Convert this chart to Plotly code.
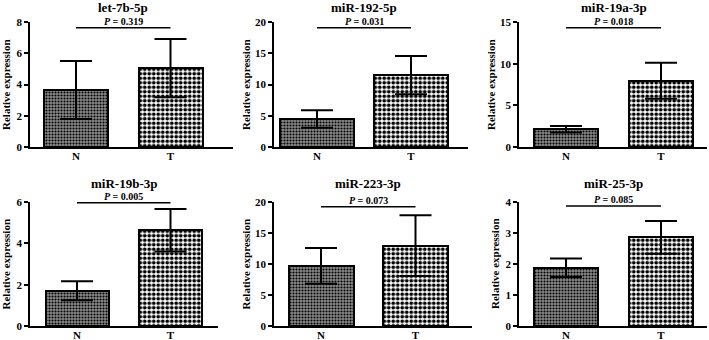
import plotly.graph_objects as go

W, H = 709, 340

# ---------------- data ----------------
titles = ["let-7b-5p", "miR-192-5p", "miR-19a-3p", "miR-19b-3p", "miR-223-3p", "miR-25-3p"]
groups = ["N", "T"]
means_let7b = [3.65, 5.05]
errs_let7b = [1.86, 1.87]
means_mir192 = [4.5, 11.5]
errs_mir192 = [1.4, 3.05]
means_mir19a = [2.13, 7.95]
errs_mir19a = [0.38, 2.15]
means_mir19b = [1.70, 4.63]
errs_mir19b = [0.46, 1.03]
means_mir223 = [9.7, 12.95]
errs_mir223 = [2.88, 4.9]
means_mir25 = [1.88, 2.86]
errs_mir25 = [0.30, 0.53]
p_labels = ["0.319", "0.031", "0.018", "0.005", "0.073", "0.085"]
y_max = [8, 20, 15, 6, 20, 4]
y_dtick = [2, 5, 5, 2, 5, 1]

means = [means_let7b, means_mir192, means_mir19a, means_mir19b, means_mir223, means_mir25]
errs = [errs_let7b, errs_mir192, errs_mir19a, errs_mir19b, errs_mir223, errs_mir25]

# ---------------- layout (pixel geometry) ----------------
# axis start, axis end, N centre, T centre, bar width (px)
xgeo = [
    (30, 233, 76, 170.5, 64),
    (274, 468, 317, 411, 74),
    (519, 707, 566, 661, 64),
    (30, 218, 77, 170.5, 63),
    (274, 472, 321, 415.5, 65),
    (519, 707, 566, 661, 64),
]
rows = [(22, 147), (202, 326)]  # top, bottom px
line_frac = [0.954, 0.954, 0.954, 0.994, 0.962, 0.968]
ylab_x = [5.5, 245.5, 490.5, 5.5, 245.5, 495]
title_y = [7.5, 7.5, 7.5, 183.5, 183.5, 183.5]

FONT = "Liberation Serif"
fig = go.Figure()

annotations = []
shapes = []
for i in range(6):
    ax0, ax1, nc, tc, bw = xgeo[i]
    u = tc - nc
    xr = [(ax0 - nc) / u, (ax1 - nc) / u]
    top, bot = rows[i // 3]
    sfx = "" if i == 0 else str(i + 1)
    xa, ya = "x" + sfx, "y" + sfx

    for j, g in enumerate(groups):
        if j == 0:
            pat = dict(shape=".", fgcolor="#000000", bgcolor="#8c8c8c", size=3, solidity=0.4, fillmode="replace")
        else:
            pat = dict(shape=".", fgcolor="#000000", bgcolor="#ffffff", size=4.5, solidity=0.55, fillmode="replace")
        fig.add_trace(go.Bar(
            x=[g], y=[means[i][j]], xaxis=xa, yaxis=ya,
            width=bw / u,
            marker=dict(color="white", pattern=pat, line=dict(color="black", width=2)),
            error_y=dict(type="data", array=[errs[i][j]], color="black", thickness=2, width=16),
            showlegend=False,
        ))

    dom_x = [ax0 / W, ax1 / W]
    dom_y = [1 - bot / H, 1 - top / H]
    fig.layout["xaxis" + sfx] = dict(
        domain=dom_x, range=xr, anchor=ya, type="category",
        categoryorder="array", categoryarray=groups, automargin=False,
        showline=True, linecolor="black", linewidth=1.5, ticks="", showgrid=False,
        zeroline=False, tickfont=dict(family=FONT, size=11, color="black", weight="bold"),
        ticklabelstandoff=-2, fixedrange=True,
    )
    fig.layout["yaxis" + sfx] = dict(
        domain=dom_y, range=[0, y_max[i]], anchor=xa, dtick=y_dtick[i], tick0=0,
        automargin=False,
        showline=True, linecolor="black", linewidth=1.5, ticks="outside", ticklen=4,
        tickwidth=1.5, tickcolor="black", showgrid=False, zeroline=False,
        tickfont=dict(family=FONT, size=11, color="black", weight="bold"),
    )

    mid = (nc + tc) / 2 / W
    annotations.append(dict(
        x=mid, y=1 - title_y[i] / H, xref="paper", yref="paper", text=titles[i],
        showarrow=False, xanchor="center", yanchor="middle",
        font=dict(family=FONT, size=13, color="black", weight="bold"),
    ))
    ly = dom_y[0] + line_frac[i] * (dom_y[1] - dom_y[0])
    annotations.append(dict(
        x=mid, y=ly, xref="paper", yref="paper",
        text="<i>P</i> = " + p_labels[i], showarrow=False, xanchor="center", yanchor="bottom",
        yshift=-1,
        font=dict(family=FONT, size=10, color="black", weight="bold"),
    ))
    annotations.append(dict(
        x=ylab_x[i] / W, y=(dom_y[0] + dom_y[1]) / 2, xref="paper", yref="paper",
        text="Relative expression", textangle=-90, showarrow=False,
        xanchor="center", yanchor="middle",
        font=dict(family=FONT, size=11, color="black", weight="bold"),
    ))
    shapes.append(dict(
        type="line", xref=xa, yref="paper", x0=groups[0], x1=groups[1], y0=ly, y1=ly,
        line=dict(color="black", width=1.6),
    ))

fig.update_layout(
    template="none",
    width=W, height=H, margin=dict(l=0, r=0, t=0, b=0, pad=0),
    plot_bgcolor="white", paper_bgcolor="white",
    barmode="overlay", bargap=0,
    annotations=annotations, shapes=shapes,
    font=dict(family=FONT, color="black"),
)

fig.write_html("out.html", config={"displayModeBar": False},
               post_script="document.body.style.margin='0';document.body.style.overflow='hidden';")
